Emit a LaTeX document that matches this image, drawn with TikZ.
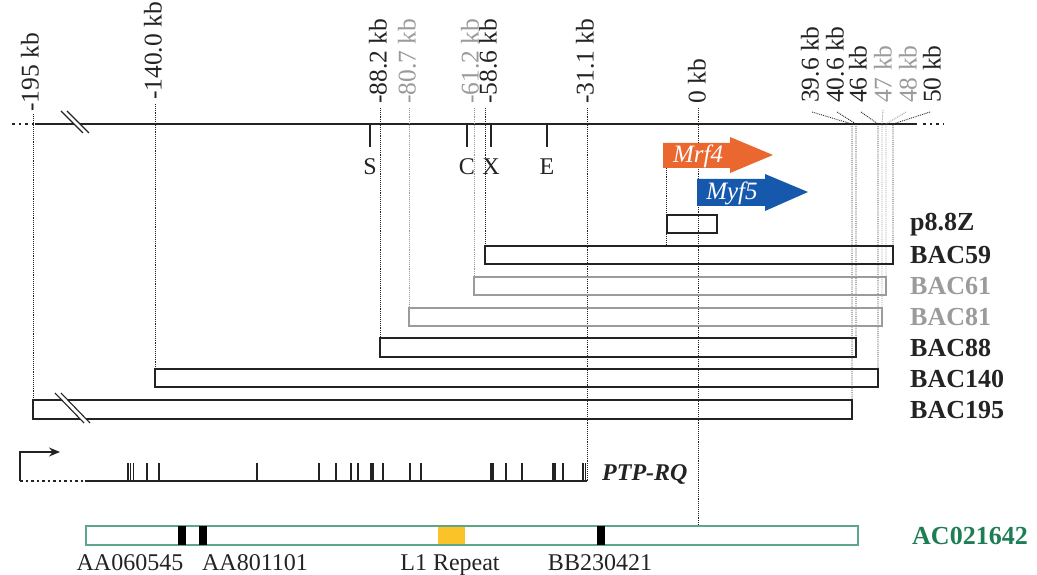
\documentclass[tikz,border=0pt]{standalone}
\usepackage{fontspec}
\setmainfont{Liberation Serif}
\usetikzlibrary{arrows.meta}
\definecolor{grayc}{RGB}{155,155,155}
\definecolor{orangec}{RGB}{234,104,48}
\definecolor{bluec}{RGB}{22,88,172}
\definecolor{greenc}{RGB}{30,125,85}
\definecolor{greenb}{RGB}{95,165,135}
\definecolor{yellowc}{RGB}{250,195,40}
\definecolor{inkc}{RGB}{35,35,35}
\begin{document}
\begin{tikzpicture}[x=1pt,y=-1pt,
  every node/.style={font=\fontsize{24}{28}\selectfont, inner sep=0pt, text=inkc},
  kb/.style={rotate=90, anchor=west, font=\fontsize{25.5}{28}\selectfont},
  dotl/.style={densely dotted, line width=0.9pt, draw=inkc},
  gdotl/.style={densely dotted, line width=0.9pt, draw=grayc},
  box/.style={draw=inkc, line width=1.5pt},
  gbox/.style={draw=grayc, line width=1.5pt},
  lab/.style={anchor=west, font=\fontsize{26}{30}\selectfont\bfseries},
  gene/.style={text=white, font=\fontsize{25}{28}\selectfont\itshape},
  endd/.style={dash pattern=on 2.5pt off 4pt, line width=1.4pt, draw=inkc},
]
\useasboundingbox (0,0) rectangle (1037,575);
\fill[white] (0,0) rectangle (1037,575);

% ---- top labels
\node[kb] (l195) at (30,112) {-195 kb};
\node[kb] (l140) at (153,100) {-140.0 kb};
\node[kb] (l88) at (378,104) {-88.2 kb};
\node[kb,text=grayc] (l80) at (407,104) {-80.7 kb};
\node[kb,text=grayc] (l61) at (470,104) {-61.2 kb};
\node[kb] (l58) at (488,104) {-58.6 kb};
\node[kb] (l31) at (585,104) {-31.1 kb};
\node[kb] (l0) at (697,104) {0 kb};
\node[kb] (l396) at (810,103) {39.6 kb};
\node[kb] (l406) at (835,103) {40.6 kb};
\node[kb] (l46) at (858,103) {46 kb};
\node[kb,text=grayc] (l47) at (883,103) {47 kb};
\node[kb,text=grayc] (l48) at (908,103) {48 kb};
\node[kb] (l50) at (932,103) {50 kb};

% ---- main line
\coordinate (m0) at (12,124);
\coordinate (mL) at (35,124);
\coordinate (mR) at (917,124);
\coordinate (m1) at (943,124);
\draw[endd] (m0) -- (mL);
\draw[line width=1.5pt, draw=inkc] (mL) -- (mR);
\draw[endd] (mR) ++(6,0) -- (m1);
\fill[white] (61,111) -- (67,111) -- (89,133) -- (83,133) -- cycle;
\draw[line width=1.1pt, draw=inkc] (61,111) -- (83,133) (67,111) -- (89,133);

% ---- site ticks
\foreach \n/\x in {S/370, C/467, X/491, E/547}{
  \coordinate (t\n) at (\x,124);
  \draw[line width=1.3pt, draw=inkc] (t\n) -- ++(0,23);
  \node (s\n) at (\x,167) {\n};
}

% ---- boxes
\coordinate (p8a) at (667,215); \coordinate (p8b) at (717,233);
\coordinate (b59a) at (485,246); \coordinate (b59b) at (893,264);
\coordinate (b61a) at (474,277); \coordinate (b61b) at (886,295);
\coordinate (b81a) at (409,308); \coordinate (b81b) at (882,326);
\coordinate (b88a) at (380,338); \coordinate (b88b) at (856,357);
\coordinate (b140a) at (155,369); \coordinate (b140b) at (878,387);
\coordinate (b195a) at (33,400); \coordinate (b195b) at (852,419);

% ---- dotted guide lines
\draw[dotl] (33,114) -- (b195a);
\draw[dotl] (155,104) -- (b140a);
\draw[dotl] (380,108) -- (b88a);
\draw[gdotl] (409,108) -- (b81a);
\draw[gdotl] (474,108) -- (b61a);
\draw[dotl] (485,108) -- (b59a);
\coordinate (ptpEnd) at (587,481);
\draw[dotl] (587,108) -- (ptpEnd);
\coordinate (acTop) at (698,526);
\draw[dotl] (698,108) -- (acTop);
\draw[dotl] (666,168) -- (666,246);
% right side
\coordinate (r396) at (852,124); \coordinate (r406) at (856,124);
\coordinate (r46) at (878,124); \coordinate (r47) at (882,124);
\coordinate (r48) at (886,124); \coordinate (r50) at (893,124);
\draw[dotl] (812,112) -- (r396) -- (852,400);
\draw[dotl] (837,112) -- (r406) -- (856,338);
\draw[dotl] (861,112) -- (r46) -- (878,369);
\draw[gdotl] (883,110) -- (r47) -- (882,308);
\draw[gdotl] (906,112) -- (r48) -- (886,277);
\draw[dotl] (930,112) -- (r50) -- (893,246);

\draw[box] (p8a) rectangle (p8b);
\draw[box] (b59a) rectangle (b59b);
\draw[gbox] (b61a) rectangle (b61b);
\draw[gbox] (b81a) rectangle (b81b);
\draw[box] (b88a) rectangle (b88b);
\draw[box] (b140a) rectangle (b140b);
\draw[box] (b195a) rectangle (b195b);
\fill[white] (55,393) -- (61,393) -- (90,423) -- (84,423) -- cycle;
\draw[line width=1.1pt, draw=inkc] (55,393) -- (84,423) (61,393) -- (90,423);

\node[lab] (np8) at (910,225) {p8.8Z};
\node[lab] (n59) at (910,255) {BAC59};
\node[lab,text=grayc] (n61) at (910,286) {BAC61};
\node[lab,text=grayc] (n81) at (910,317) {BAC81};
\node[lab] (n88) at (910,348) {BAC88};
\node[lab] (n140) at (910,379) {BAC140};
\node[lab] (n195) at (910,410) {BAC195};

% ---- gene arrows
\fill[orangec] (663,143) -- (730,143) -- (730,137) -- (773,155) -- (730,173) -- (730,168) -- (663,168) -- cycle;
\node[gene] (mrf) at (698,156) {Mrf4};
\fill[bluec] (697,179) -- (765,179) -- (765,174) -- (808,192) -- (765,211) -- (765,206) -- (697,206) -- cycle;
\node[gene] (myf) at (732,193) {Myf5};

% ---- PTP-RQ
\coordinate (pS) at (20,481);
\coordinate (pD) at (85,481);
\draw[line width=1.3pt, draw=inkc, -{Stealth[length=11pt,width=9pt]}] (pS) -- (20,452) -- (60,452);
\draw[endd, dash pattern=on 2.5pt off 3pt] (pS) -- (pD);
\draw[line width=1.5pt, draw=inkc] (pD) -- (ptpEnd);
\foreach \x in {128,130.5,133.5,147,159,257,319,336,351,358,371,373,383,410,421,491,493,506,522,553,555,563,583,585.5}{
  \draw[line width=1.3pt, draw=inkc] (\x,481) -- (\x,463);
}
\node[anchor=west, font=\fontsize{24}{28}\selectfont\bfseries\itshape] (ptp) at (602,474) {PTP-RQ};

% ---- AC021642
\coordinate (acA) at (86,526); \coordinate (acB) at (858,545);
\draw[draw=greenb, line width=1.6pt] (acA) rectangle (acB);
\fill[black] (178,526) rectangle (186,545);
\fill[black] (199,526) rectangle (207,545);
\fill[yellowc] (438,527) rectangle (465,544);
\fill[black] (597,526) rectangle (605,545);
\node[anchor=base] (a1) at (130,570) {AA060545};
\node[anchor=base] (a2) at (255,570) {AA801101};
\node[anchor=base] (a3) at (450,570) {L1 Repeat};
\node[anchor=base] (a4) at (600,570) {BB230421};
\node[lab, text=greenc] (ac) at (912,536) {AC021642};
\end{tikzpicture}
\end{document}
